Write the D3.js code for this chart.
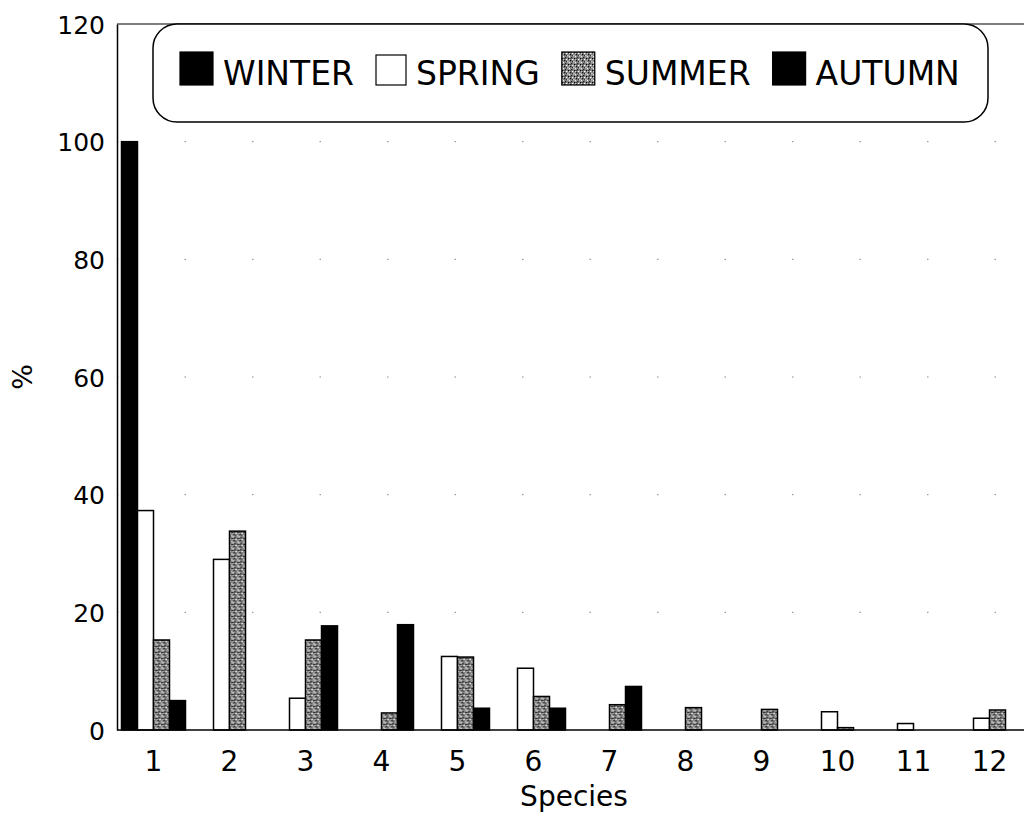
<!DOCTYPE html>
<html>
<head>
<meta charset="utf-8">
<script src="https://cdn.jsdelivr.net/npm/d3@7"></script>
<style>
  body { margin: 0; background: #fff; }
  text { font-family: 'DejaVu Sans', sans-serif; fill: #000; }
</style>
</head>
<body>
<div id="chart"></div>
<script>
(function(d3) {
  'use strict';

  var species = ['1', '2', '3', '4', '5', '6', '7', '8', '9', '10', '11', '12'];
  var seasons = ['WINTER', 'SPRING', 'SUMMER', 'AUTUMN'];
  var winter = [100, 0, 0, 0, 0, 0, 0, 0, 0, 0, 0, 0];
  var spring = [37.3, 29, 5.4, 0, 12.5, 10.5, 0, 0, 0, 3.1, 1.1, 2.0];
  var summer = [15.3, 33.8, 15.3, 2.9, 12.4, 5.7, 4.3, 3.8, 3.5, 0.4, 0, 3.4];
  var autumn = [5, 0, 17.7, 17.9, 3.7, 3.7, 7.4, 0, 0, 0, 0, 0];
  var yTicks = [0, 20, 40, 60, 80, 100, 120];

  var series = [winter, spring, summer, autumn];

  var width = 1024;
  var height = 836;

  var svg = d3.select('#chart')
    .append('svg')
    .attr('width', width)
    .attr('height', height);

  // stippled grey for summer
  var pat = svg.append('defs').append('pattern')
    .attr('id', 'stipple')
    .attr('width', 6)
    .attr('height', 6)
    .attr('patternUnits', 'userSpaceOnUse');
  pat.append('rect').attr('width', 6).attr('height', 6).attr('fill', '#8a8a8a');
  [[0, 0, '#111'], [3, 1, '#fff'], [1, 3, '#222'], [4, 4, '#000'], [5, 2, '#eee'],
   [2, 5, '#fff'], [2, 1, '#333'], [5, 5, '#ccc'], [0, 4, '#444']]
    .forEach(function(p) {
      pat.append('rect').attr('x', p[0]).attr('y', p[1])
        .attr('width', 1.3).attr('height', 1.3).attr('fill', p[2]);
    });

  var fills = {WINTER: '#000', SPRING: '#fff', SUMMER: 'url(#stipple)', AUTUMN: '#000'};

  var x0 = d3.scaleBand()
    .domain(species)
    .range([115.5, 1027.5])
    .paddingInner(12 / 76)
    .paddingOuter(6 / 76);

  var x1 = d3.scaleBand()
    .domain(seasons)
    .range([0, x0.bandwidth()]);

  var y = d3.scaleLinear()
    .domain([0, 120])
    .range([730, 24]);

  // faint dotted grid
  svg.append('g')
    .selectAll('line')
    .data(yTicks.slice(1, -1))
    .enter()
    .append('line')
    .attr('x1', 117)
    .attr('x2', width)
    .attr('y1', function(d) { return y(d); })
    .attr('y2', function(d) { return y(d); })
    .attr('stroke', '#888')
    .attr('stroke-width', 1)
    .attr('stroke-dasharray', '1.5,66');

  // top frame line
  svg.append('line')
    .attr('x1', 117).attr('x2', width)
    .attr('y1', y(120)).attr('y2', y(120))
    .attr('stroke', '#000')
    .attr('stroke-width', 1.2);

  var rows = species.map(function(s, i) {
    return {species: s, values: seasons.map(function(k, j) {
      return {season: k, value: series[j][i]};
    })};
  });

  var groups = svg.append('g')
    .selectAll('g')
    .data(rows)
    .enter()
    .append('g')
    .attr('transform', function(d) { return 'translate(' + x0(d.species) + ',0)'; });

  groups.selectAll('rect')
    .data(function(d) { return d.values.filter(function(v) { return v.value > 0; }); })
    .enter()
    .append('rect')
    .attr('x', function(d) { return x1(d.season); })
    .attr('y', function(d) { return y(d.value); })
    .attr('width', x1.bandwidth())
    .attr('height', function(d) { return y(0) - y(d.value); })
    .attr('fill', function(d) { return fills[d.season]; })
    .attr('stroke', '#000')
    .attr('stroke-width', 1.5);

  // axes
  var xAxis = svg.append('g')
    .attr('transform', 'translate(0,' + y(0) + ')')
    .call(d3.axisBottom(x0).tickSize(0).tickPadding(21));
  xAxis.select('.domain').remove();
  xAxis.selectAll('text')
    .attr('font-size', 28)
    .attr('font-family', 'DejaVu Sans')
    .attr('dy', '0.71em');

  svg.append('line')
    .attr('x1', 117).attr('x2', width)
    .attr('y1', y(0)).attr('y2', y(0))
    .attr('stroke', '#000')
    .attr('stroke-width', 1.5);

  var yAxis = svg.append('g')
    .attr('transform', 'translate(117,0)')
    .call(d3.axisLeft(y).tickValues(yTicks).tickSize(0).tickPadding(12));
  yAxis.select('.domain')
    .attr('stroke', '#000')
    .attr('stroke-width', 1.5);
  yAxis.selectAll('text')
    .attr('font-size', 25)
    .attr('font-family', 'DejaVu Sans')
    .attr('dy', '0.36em');

  svg.append('text')
    .attr('x', 574)
    .attr('y', 806)
    .attr('text-anchor', 'middle')
    .attr('font-size', 28)
    .text('Species');

  svg.append('text')
    .attr('transform', 'translate(32,377) rotate(-90)')
    .attr('text-anchor', 'middle')
    .attr('font-size', 27)
    .text('%');

  // legend
  svg.append('rect')
    .attr('x', 153)
    .attr('y', 24)
    .attr('width', 835)
    .attr('height', 98)
    .attr('rx', 24)
    .attr('fill', '#fff')
    .attr('stroke', '#000')
    .attr('stroke-width', 1.5);

  var lx = 180;
  seasons.forEach(function(k) {
    var sz = k === 'SPRING' ? 30 : 33;
    svg.append('rect')
      .attr('x', lx)
      .attr('y', 85 - sz)
      .attr('width', sz)
      .attr('height', sz)
      .attr('fill', fills[k])
      .attr('stroke', '#000')
      .attr('stroke-width', 1.2);
    var t = svg.append('text')
      .attr('x', lx + sz + 10)
      .attr('y', 85)
      .attr('font-size', 33)
      .text(k);
    lx += sz + 10 + t.node().getComputedTextLength() + 22;
  });

})(window.d3);
</script>
</body>
</html>
